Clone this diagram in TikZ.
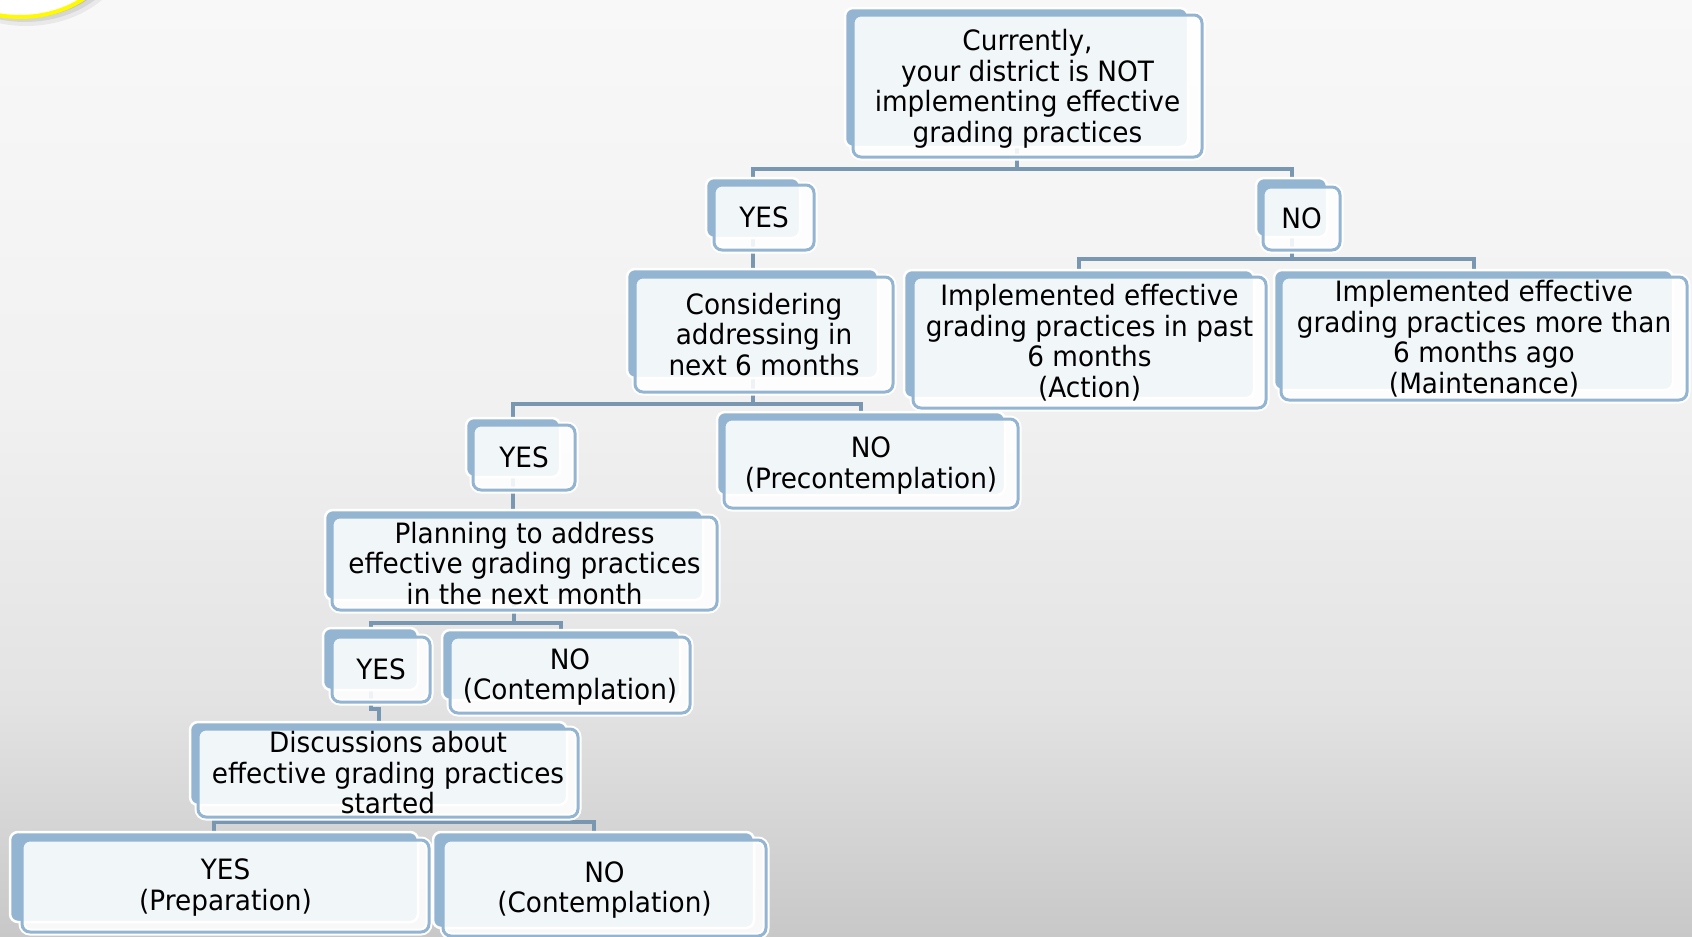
\documentclass[tikz,border=0pt]{standalone}
\usepackage{fontspec}
\setmainfont{DejaVu Sans}[FakeStretch=0.94]
\usetikzlibrary{fit}
\definecolor{bgtop}{RGB}{248,248,248}
\definecolor{bgmid}{RGB}{241,241,241}
\definecolor{bglow}{RGB}{227,227,227}
\definecolor{bgbot}{RGB}{200,200,200}
\definecolor{boxblue}{RGB}{148,181,210}
\definecolor{connc}{RGB}{122,151,177}
\definecolor{ringyellow}{RGB}{255,250,0}
\pgfdeclarelayer{bg}
\pgfdeclarelayer{conn}
\pgfsetlayers{bg,conn,main}
\pgfdeclareverticalshading{bgshade}{100bp}{color(0bp)=(bgbot); color(25bp)=(bgbot); color(37.6bp)=(bglow); color(53.7bp)=(bgmid); color(75bp)=(bgtop); color(100bp)=(bgtop)}
\tikzset{
  halobox/.style={draw=white, line width=7pt, rounded corners=8pt, inner sep=0pt},
  backbox/.style={draw=white, line width=2.5pt, fill=boxblue, rounded corners=8pt, inner sep=0pt},
  frontbox/.style={draw=boxblue, line width=3pt, fill=white, fill opacity=0.88, rounded corners=8pt, inner sep=0pt},
  txt/.style={align=center, font=\fontsize{28}{30.5}\selectfont, inner sep=0pt, text=black},
  conn/.style={draw=connc, line width=4pt},
}
\newcommand\stage[7][]{%
  \node[halobox, fit={(#5) (#6)}] (#2-h) {};
  \node[backbox, fit={(#3) (#4)}] (#2-b) {};
  \node[frontbox, fit={(#5) (#6)}] (#2) {};
  \node[txt, #1] (#2-t) at (#2.center) {#7};
}
\begin{document}
\begin{tikzpicture}[x=1pt, y=-1pt]
\useasboundingbox (0,0) rectangle (1692,937);
\begin{pgfonlayer}{bg}
  \shade[shading=bgshade] (0,0) rectangle (1692,937);
  \fill[black, opacity=0.06] (26,-60) ellipse [x radius=106pt, y radius=86pt];
  \fill[black, opacity=0.08] (25,-61) ellipse [x radius=103pt, y radius=83pt];
  \fill[black, opacity=0.10] (24,-62) ellipse [x radius=100pt, y radius=80pt];
  \draw[ringyellow, line width=4pt, fill=white] (20,-63) ellipse [x radius=100pt, y radius=80pt];
\end{pgfonlayer}

\stage[yshift=-3pt]{top}{845,8}{1188,147}{853,15}{1202,157}{Currently,\\your district is NOT\\implementing effective\\grading practices}
\stage{yes1}{706,178}{800,238}{714,185}{814,250}{YES}
\stage{no1}{1256,178}{1327,237}{1263,187}{1340,250}{NO}
\stage{cons}{627,269}{878,378}{635,277}{893,392}{Considering\\addressing in\\next 6 months}
\stage{action}{904,270}{1254,398}{913,277}{1266,408}{Implemented effective\\grading practices in past\\6 months\\(Action)}
\stage{maint}{1274,270}{1673,390}{1281,277}{1687,400}{Implemented effective\\grading practices more than\\6 months ago\\(Maintenance)}
\stage{yes2}{466,418}{560,477}{473,425}{575,490}{YES}
\stage[yshift=-2pt]{precon}{717,412}{1005,495}{724,419}{1018,508}{NO\\(Precontemplation)}
\stage{plan}{325,510}{703,600}{332,517}{717,610}{Planning to address\\effective grading practices\\in the next month}
\stage{yes3}{323,628}{418,690}{332,637}{430,702}{YES}
\stage[yshift=-2pt]{cont1}{442,630}{680,700}{450,637}{690,713}{NO\\(Contemplation)}
\stage{disc}{190,722}{567,805}{198,729}{578,817}{Discussions about\\effective grading practices\\started}
\stage[yshift=-1.5pt]{prep}{10,832}{418,922}{22,840}{429,932}{YES\\(Preparation)}
\stage[yshift=-2pt]{cont2}{433,832}{754,928}{443,840}{766,936}{NO\\(Contemplation)}

\begin{pgfonlayer}{conn}
  \draw[conn] (top-b.south) -- ++(0,21) coordinate (j1) -| (yes1-b.north);
  \draw[conn] (j1) -| (no1-b.north);
  \draw[conn] (yes1-b.south) -- (yes1-b.south |- cons-b.north);
  \draw[conn] (no1-b.south) -- ++(0,21) coordinate (j2) -| (action-b.north);
  \draw[conn] (j2) -| (maint-b.north);
  \draw[conn] (cons-b.south) -- ++(0,25) coordinate (j3) -| (yes2-b.north);
  \draw[conn] (j3) -| (precon-b.north);
  \draw[conn] (yes2-b.south) -- (yes2-b.south |- plan-b.north);
  \draw[conn] (plan-b.south) -- ++(0,22) coordinate (j4) -| (yes3-b.north);
  \draw[conn] (j4) -| (cont1-b.north);
  \draw[conn] (yes3-b.south) -- ++(0,18) -| (disc-b.north);
  \draw[conn] (disc-b.south) -- ++(0,16) coordinate (j5) -| (prep-b.north);
  \draw[conn] (j5) -| (cont2-b.north);
\end{pgfonlayer}
\end{tikzpicture}
\end{document}
